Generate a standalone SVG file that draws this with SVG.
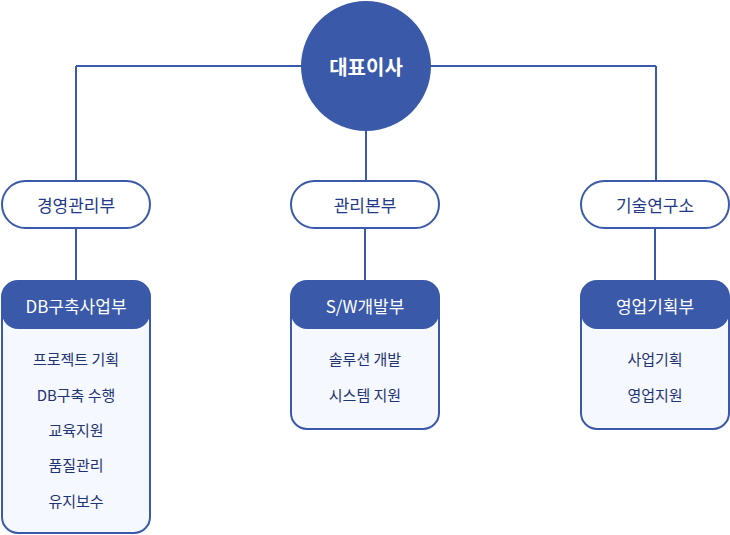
<svg xmlns="http://www.w3.org/2000/svg" width="730" height="535" viewBox="0 0 730 535">
<style>
text{font-family:"Noto Sans CJK KR","Noto Sans",sans-serif;text-anchor:middle;dominant-baseline:central}
.ln{stroke:#3a59a9;stroke-width:2;fill:none}
.pill{fill:#fff;stroke:#3a59a9;stroke-width:2}
.pt{font-size:17px;fill:#22398a}
.box{fill:#f5f8fe;stroke:#3a59a9;stroke-width:2}
.hd{fill:#3a59a9}
.ht{font-size:17px;fill:#fff}
.it{font-size:15px;fill:#1f3474}
</style>
<g id="connectors">
<path class="ln" d="M76 66H656M76 66V181M656 66V181M366 131V181M76 228V281M365 228V281M655 228V281"/>
</g>
<g id="ceo">
<circle cx="366" cy="66" r="65" fill="#3a59a9"/>
<text x="366" y="66" style="font-size:20px;font-weight:bold;fill:#fff">대표이사</text>
</g>
<g id="mgmt">
<rect class="pill" x="2" y="181" width="148" height="47" rx="23.5"/>
<text class="pt" x="76" y="204.5">경영관리부</text>
</g>
<g id="admin">
<rect class="pill" x="291" y="181" width="148" height="47" rx="23.5"/>
<text class="pt" x="365" y="204.5">관리본부</text>
</g>
<g id="lab">
<rect class="pill" x="581" y="181" width="148" height="47" rx="23.5"/>
<text class="pt" x="655" y="204.5">기술연구소</text>
</g>
<g id="db">
<rect class="box" x="2" y="281" width="148" height="252" rx="16"/>
<rect class="hd" x="2" y="281" width="148" height="48" rx="16"/>
<text class="ht" x="76" y="305">DB구축사업부</text>
<text class="it" x="76" y="358">프로젝트 기획</text>
<text class="it" x="76" y="394">DB구축 수행</text>
<text class="it" x="76" y="429">교육지원</text>
<text class="it" x="76" y="464">품질관리</text>
<text class="it" x="76" y="500">유지보수</text>
</g>
<g id="sw">
<rect class="box" x="291" y="281" width="148" height="148" rx="16"/>
<rect class="hd" x="291" y="281" width="148" height="48" rx="16"/>
<text class="ht" x="365" y="305">S/W개발부</text>
<text class="it" x="365" y="358">솔루션 개발</text>
<text class="it" x="365" y="394">시스템 지원</text>
</g>
<g id="sales">
<rect class="box" x="581" y="281" width="148" height="148" rx="16"/>
<rect class="hd" x="581" y="281" width="148" height="48" rx="16"/>
<text class="ht" x="655" y="305">영업기획부</text>
<text class="it" x="655" y="358">사업기획</text>
<text class="it" x="655" y="394">영업지원</text>
</g>
</svg>
